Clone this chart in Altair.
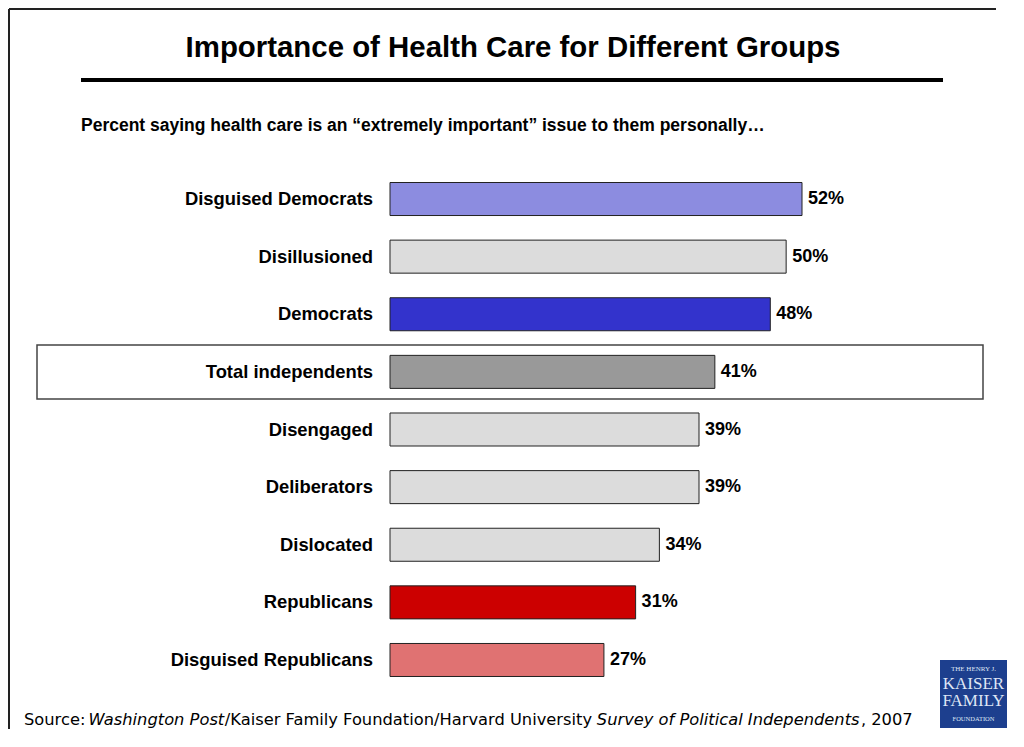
import altair as alt
import pandas as pd

# ---- data ----
categories = ["Disguised Democrats", "Disillusioned", "Democrats", "Total independents",
              "Disengaged", "Deliberators", "Dislocated", "Republicans", "Disguised Republicans"]
values = [52, 50, 48, 41, 39, 39, 34, 31, 27]
bar_colors = ["#8c8ce0", "#dcdcdc", "#3333cc", "#999999", "#dcdcdc",
              "#dcdcdc", "#dcdcdc", "#cc0000", "#e07272"]

title_text = "Importance of Health Care for Different Groups"
subtitle_text = "Percent saying health care is an \u201cextremely important\u201d issue to them personally\u2026"
source_parts = ["Source:", "Washington Post", "/Kaiser Family Foundation/Harvard University",
                "Survey of Political Independents", ", 2007"]
source_styles = ["normal", "italic", "normal", "italic", "normal"]
logo_lines = ["THE HENRY J.", "KAISER", "FAMILY", "FOUNDATION"]

SANS = "Liberation Sans"
W, H = 1008, 721

df = pd.DataFrame({"category": categories, "value": values,
                   "label": [f"{v}%" for v in values]})

x_scale = alt.Scale(domain=[0, 52], range=[382, 794], nice=False, zero=True)
y_scale = alt.Scale(domain=categories, range=[162.2, 680.8],
                    paddingInner=0.427, paddingOuter=0.2135)

base = alt.Chart(df)

bars = base.mark_bar(stroke="#222222", strokeWidth=1, cornerRadius=0).encode(
    x=alt.X("value:Q", scale=x_scale, axis=None),
    y=alt.Y("category:N", scale=y_scale, axis=None, sort=categories),
    color=alt.Color("category:N", scale=alt.Scale(domain=categories, range=bar_colors), legend=None),
)

cat_labels = base.mark_text(align="right", baseline="middle", font=SANS, fontSize=18.4,
                            fontWeight="bold", color="#000000").encode(
    x=alt.value(365),
    y=alt.Y("category:N", scale=y_scale, axis=None, sort=categories),
    text="category:N",
)

val_labels = base.mark_text(align="left", baseline="middle", dx=6, font=SANS, fontSize=18,
                            fontWeight="bold", color="#000000").encode(
    x=alt.X("value:Q", scale=x_scale, axis=None),
    y=alt.Y("category:N", scale=y_scale, axis=None, sort=categories),
    text="label:N",
)

one = pd.DataFrame({"k": [0]})

border_left = alt.Chart(one).mark_rule(color="#222222", strokeWidth=2).encode(
    x=alt.value(1), y=alt.value(1), y2=alt.value(H))
border_top = alt.Chart(one).mark_rule(color="#222222", strokeWidth=2).encode(
    x=alt.value(1), x2=alt.value(W - 20), y=alt.value(1))

highlight = alt.Chart(one).mark_rect(fill=None, stroke="#444444", strokeWidth=1.5).encode(
    x=alt.value(29), x2=alt.value(975), y=alt.value(337), y2=alt.value(391))

title = alt.Chart(pd.DataFrame({"t": [title_text]})).mark_text(
    align="center", baseline="alphabetic", font=SANS, fontSize=29.4, fontWeight="bold",
    color="#000000").encode(x=alt.value(505), y=alt.value(49), text="t:N")

title_rule = alt.Chart(one).mark_rule(color="#000000", strokeWidth=4).encode(
    x=alt.value(73), x2=alt.value(935), y=alt.value(72))

subtitle = alt.Chart(pd.DataFrame({"t": [subtitle_text]})).mark_text(
    align="left", baseline="alphabetic", font=SANS, fontSize=17.5, fontWeight="bold",
    color="#000000").encode(x=alt.value(73), y=alt.value(123), text="t:N")

src_x = [16, 80.6, 216.8, 588.8, 852.9]
source_layers = []
for part, style, xx in zip(source_parts, source_styles, src_x):
    source_layers.append(
        alt.Chart(pd.DataFrame({"t": [part]})).mark_text(
            align="left", baseline="alphabetic", font="DejaVu Sans", fontSize=16.3,
            fontStyle=style, color="#000000").encode(
            x=alt.value(xx), y=alt.value(717), text="t:N"))

logo_box = alt.Chart(one).mark_rect(fill="#1d3f8e").encode(
    x=alt.value(932), x2=alt.value(999), y=alt.value(652), y2=alt.value(720))

logo_sizes = [7, 17, 17, 6.5]
logo_y = [663, 681, 698, 713]
logo_layers = []
for line, fs, yy in zip(logo_lines, logo_sizes, logo_y):
    logo_layers.append(
        alt.Chart(pd.DataFrame({"t": [line]})).mark_text(
            align="center", baseline="alphabetic", font="Liberation Serif", fontSize=fs,
            color="#dfe6f5").encode(x=alt.value(965.5), y=alt.value(yy), text="t:N"))

chart = alt.layer(
    border_left, border_top, highlight, title, title_rule, subtitle, bars, cat_labels, val_labels,
    logo_box, *logo_layers, *source_layers
).properties(
    width=W, height=H, autosize=alt.AutoSizeParams(type="none"), padding=0
).configure_view(stroke="transparent", strokeWidth=0)

chart.save("out.html", embed_options={"renderer": "svg", "actions": False})
